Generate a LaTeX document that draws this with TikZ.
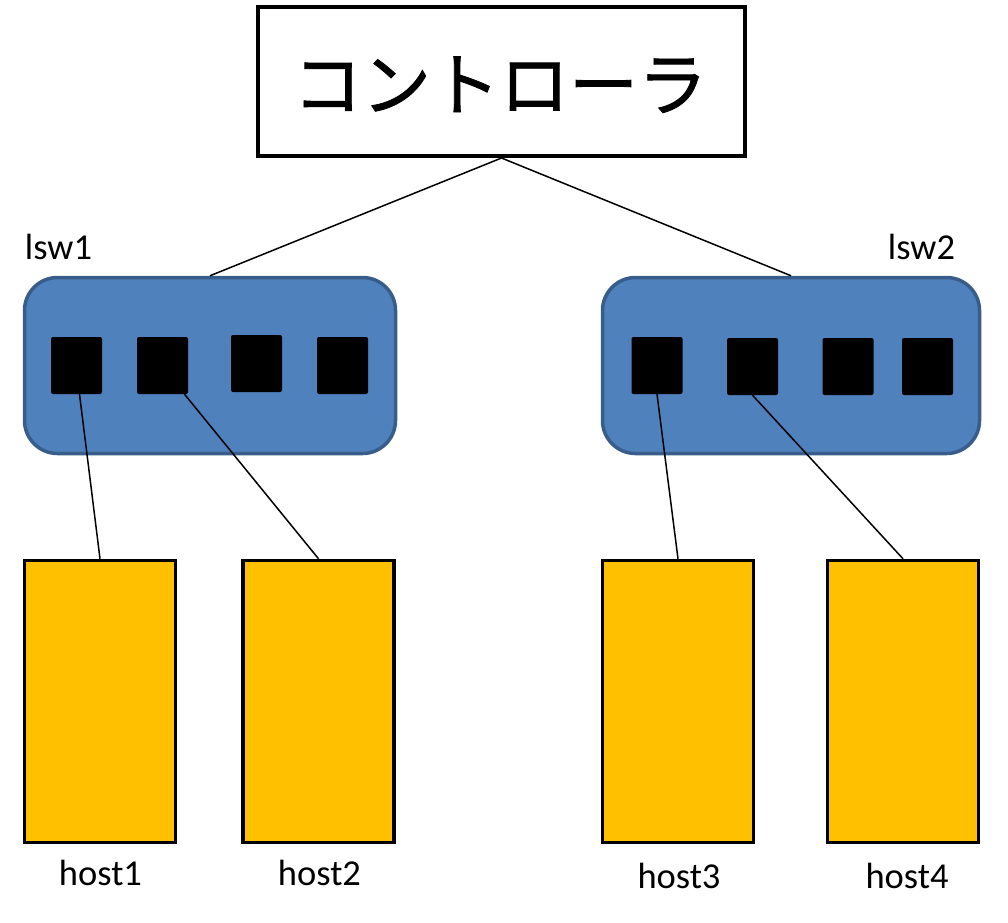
\documentclass[tikz,border=0pt]{standalone}
\usepackage{fontspec}
\setmainfont{Carlito}
\newfontfamily\cjk[FakeBold=1.2]{Noto Sans CJK JP}
\definecolor{swblue}{HTML}{4F81BD}
\definecolor{swborder}{HTML}{385D8A}
\definecolor{hostfill}{HTML}{FFC000}
\begin{document}
\begin{tikzpicture}[x=1pt,y=-1pt,
  ctrlbox/.style={draw=black,line width=4pt,fill=white,minimum width=487pt,minimum height=149pt,inner sep=0pt},
  swbox/.style={draw=swborder,fill=swblue,line width=3.5pt,rounded corners=33pt,minimum height=176pt,inner sep=0pt},
  port/.style={fill=black,rounded corners=2pt,minimum width=51pt,minimum height=57pt,inner sep=0pt},
  hostbox/.style={draw=black,fill=hostfill,line width=3.5pt,minimum width=151pt,minimum height=282pt,inner sep=0pt},
  lbl/.style={font=\fontsize{36.5}{40}\selectfont,anchor=base,inner sep=0pt},
  link/.style={draw=black,line width=1.5pt}]
\useasboundingbox (0,0) rectangle (1008,922);
% controller
\node[ctrlbox] (ctrl) at (501.5,81.5) {};
\node[font=\cjk\fontsize{69}{72}\selectfont,anchor=base,inner sep=0pt] (ctrltext) at (500,110) {コントローラ};
% switches
\node[swbox,minimum width=371pt] (lsw1) at (210,365.5) {};
\node[swbox,minimum width=377pt] (lsw2) at (791,365.5) {};
\node[lbl] (lsw1lbl) at (58.5,259) {lsw1};
\node[lbl] (lsw2lbl) at (921.5,259) {lsw2};
% ports
\node[port] (p1) at (76.5,365.5) {};
\node[port] (p2) at (162.5,365.5) {};
\node[port] (p3) at (256.5,363.5) {};
\node[port] (p4) at (342.5,365.5) {};
\node[port] (q1) at (657,365.5) {};
\node[port] (q2) at (752.5,366.5) {};
\node[port] (q3) at (848,366.5) {};
\node[port] (q4) at (927.5,366.5) {};
% hosts
\node[hostbox] (h1) at (100,701.5) {};
\node[hostbox] (h2) at (318.5,701.5) {};
\node[hostbox] (h3) at (678,701.5) {};
\node[hostbox] (h4) at (903,701.5) {};
\node[lbl] (h1lbl) at (100.5,885) {host1};
\node[lbl] (h2lbl) at (319.5,885) {host2};
\node[lbl] (h3lbl) at (679,888) {host3};
\node[lbl] (h4lbl) at (907,888) {host4};
% links
\draw[link] (ctrl.south) -- (lsw1.north);
\draw[link] (ctrl.south) -- (lsw2.north);
\draw[link] ([xshift=3pt]p1.south) -- (h1.north);
\draw[link] ([xshift=22pt]p2.south) -- (h2.north);
\draw[link] (q1.south) -- (h3.north);
\draw[link] (q2.south) -- (h4.north);
\end{tikzpicture}
\end{document}
